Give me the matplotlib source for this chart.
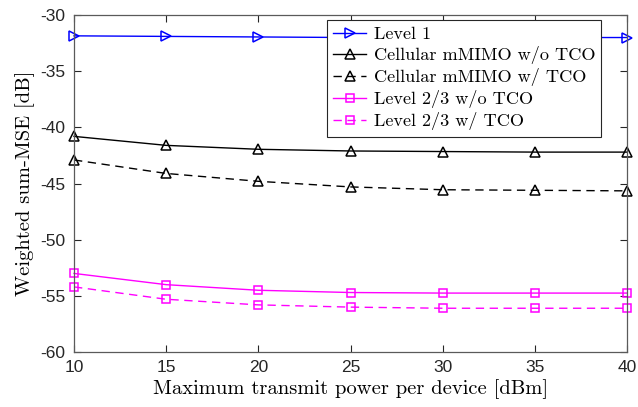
import numpy as np
import matplotlib.pyplot as plt

plt.rcParams['axes.unicode_minus'] = False

power_dbm = [10, 15, 20, 25, 30, 35, 40]

level1 = [-31.85, -31.9, -31.95, -32.0, -32.0, -32.0, -32.0]
cell_wo_tco = [-40.8, -41.6, -41.95, -42.1, -42.15, -42.2, -42.2]
cell_w_tco = [-42.9, -44.1, -44.8, -45.3, -45.55, -45.6, -45.65]
lvl23_wo_tco = [-53.0, -54.0, -54.5, -54.7, -54.75, -54.75, -54.75]
lvl23_w_tco = [-54.2, -55.3, -55.8, -56.0, -56.1, -56.1, -56.1]

series = [
    (level1, 'Level 1', 'blue', '-', '>'),
    (cell_wo_tco, 'Cellular mMIMO w/o TCO', 'black', '-', '^'),
    (cell_w_tco, 'Cellular mMIMO w/ TCO', 'black', (0, (6, 4)), '^'),
    (lvl23_wo_tco, 'Level 2/3 w/o TCO', 'magenta', '-', 's'),
    (lvl23_w_tco, 'Level 2/3 w/ TCO', 'magenta', (0, (6, 4)), 's'),
]

fig = plt.figure(figsize=(6.38, 4.07), dpi=100)
ax = fig.add_axes([0.116, 0.135, 0.867, 0.828])

for vals, name, col, ls, mk in series:
    ms = 5.5 if mk == 's' else 7
    ax.plot(power_dbm, vals, color=col, linestyle=ls, linewidth=1.0,
            marker=mk, markersize=ms, markerfacecolor='none',
            markeredgewidth=1.1, label=name, clip_on=False)

ax.set_xlim(10, 40)
ax.set_ylim(-60, -30)
ax.set_xticks(power_dbm)
ax.set_yticks(np.arange(-60, -29, 5))
ax.tick_params(direction='in', top=True, right=True, length=5,
               labelsize=12.5, colors='#262626', pad=6)
for lab in ax.get_xticklabels() + ax.get_yticklabels():
    lab.set_fontfamily('Liberation Sans')
for s in ax.spines.values():
    s.set_color('#5a5a5a')
    s.set_linewidth(0.9)

ax.set_xlabel('Maximum transmit power per device [dBm]', fontfamily='cmr10',
              fontsize=14.8, labelpad=3)
ax.set_ylabel('Weighted sum-MSE [dB]', fontfamily='cmr10', fontsize=14.8,
              labelpad=4)

leg = ax.legend(loc='upper right', bbox_to_anchor=(0.96, 0.995),
                prop={'family': 'cmr10', 'size': 13.1}, fancybox=False,
                framealpha=1, edgecolor='#262626', handlelength=1.8,
                handletextpad=0.4, borderpad=0.35, labelspacing=0.22,
                borderaxespad=0.2)
leg.get_frame().set_linewidth(0.8)

fig.savefig('out.png', dpi=100)
